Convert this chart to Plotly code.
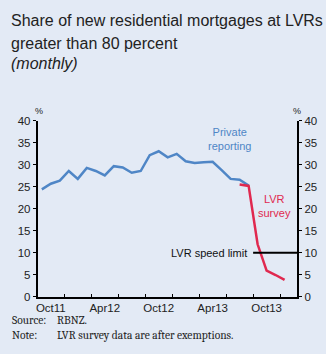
import plotly.graph_objects as go

# month index 0 = Sep11
months_private = list(range(0, 24))
private = [24.4, 25.7, 26.4, 28.6, 26.8, 29.3, 28.6, 27.6, 29.7, 29.4, 28.2, 28.6,
           32.2, 33.1, 31.7, 32.5, 30.8, 30.4, 30.6, 30.7, 28.8, 26.8, 26.6, 25.3]
months_survey = [22, 23, 24, 25, 26, 27]
survey = [25.5, 25.2, 11.9, 5.9, 4.9, 3.8]
speed_limit = 10
tick_pos = [1, 7, 13, 19, 25]
tick_text = ["Oct11", "Apr12", "Oct12", "Apr13", "Oct13"]
minor_pos = [2.5, 5.5, 8.5, 11.5, 14.5, 17.5, 20.5, 23.5, 26.5]

BLUE = "#4f86c6"
RED = "#e0294f"
BG = "#e3eaf5"
XR = [-0.45, 28.4]

fig = go.Figure()
fig.add_trace(go.Scatter(x=months_private, y=private, mode="lines",
                         line=dict(color=BLUE, width=2.5), hoverinfo="skip"))
fig.add_trace(go.Scatter(x=months_survey, y=survey, mode="lines",
                         line=dict(color=RED, width=2.5), hoverinfo="skip"))
fig.add_trace(go.Scatter(x=[23.5, XR[1]], y=[speed_limit, speed_limit], mode="lines",
                         line=dict(color="black", width=2), hoverinfo="skip"))
fig.add_trace(go.Scatter(x=[0], y=[0], yaxis="y2", mode="markers",
                         marker=dict(opacity=0), hoverinfo="skip"))

axfont = dict(family="Arial, Liberation Sans, sans-serif", size=11.5, color="#222")
yax = dict(range=[0, 40], dtick=5, showgrid=False, zeroline=False, showline=True,
           linecolor="black", linewidth=2, ticks="outside", ticklen=3,
           tickcolor="black", tickwidth=1, tickfont=axfont, fixedrange=True,
           domain=[1 - 300.7 / 354, 1 - 119 / 354])
fig.update_layout(
    width=326, height=354, margin=dict(l=0, r=0, t=0, b=0),
    paper_bgcolor=BG, plot_bgcolor=BG, showlegend=False,
    xaxis=dict(range=XR, domain=[36 / 326, 297 / 326], showgrid=False, zeroline=False,
               showline=True, linecolor="black", linewidth=2,
               tickmode="array", tickvals=tick_pos, ticktext=tick_text, ticks="",
               tickfont=axfont,
               minor=dict(tickmode="array", tickvals=minor_pos, ticks="inside",
                          ticklen=3, tickcolor="black", tickwidth=1)),
    yaxis=dict(**yax, side="left"),
    yaxis2=dict(**yax, side="right", overlaying="y", anchor="x"),
)

def ann(text, x, y, size=11, color="#222", xanchor="center", xref="paper", yref="paper",
        family="Arial, Liberation Sans, sans-serif", italic=False):
    if italic:
        text = "<i>" + text + "</i>"
    fig.add_annotation(text=text, x=x, y=y, xref=xref, yref=yref, showarrow=False,
                       xanchor=xanchor, yanchor="middle",
                       font=dict(family=family, size=size, color=color))

H = 354.0
def py(p):
    return 1 - p / H

ann("Share of new residential mortgages at LVRs", 7 / 326, py(14.5), size=16, xanchor="left")
ann("greater than 80 percent", 7 / 326, py(39), size=16, xanchor="left")
ann("(monthly)", 7 / 326, py(60), size=16, xanchor="left", italic=True)
ann("%", 37 / 326, py(109), size=9)
ann("%", 297 / 326, py(109), size=9)
ann("Private<br>reporting", 20.9, 35.9, size=11, color=BLUE, xref="x", yref="y")
ann("LVR<br>survey", 25.9, 20.7, size=11, color=RED, xref="x", yref="y")
ann("LVR speed limit", 23.0, speed_limit, size=11, color="#111", xanchor="right",
    xref="x", yref="y")
serif = "Cambria, Liberation Serif, DejaVu Serif, serif"
ann("Source:", 8 / 326, py(326), size=11.5, xanchor="left", family=serif)
ann("RBNZ.", 53 / 326, py(326), size=11.5, xanchor="left", family=serif)
ann("Note:", 8 / 326, py(341), size=11.5, xanchor="left", family=serif)
ann("LVR survey data are after exemptions.", 53 / 326, py(341), size=11.5,
    xanchor="left", family=serif)

fig.write_html("out.html")
